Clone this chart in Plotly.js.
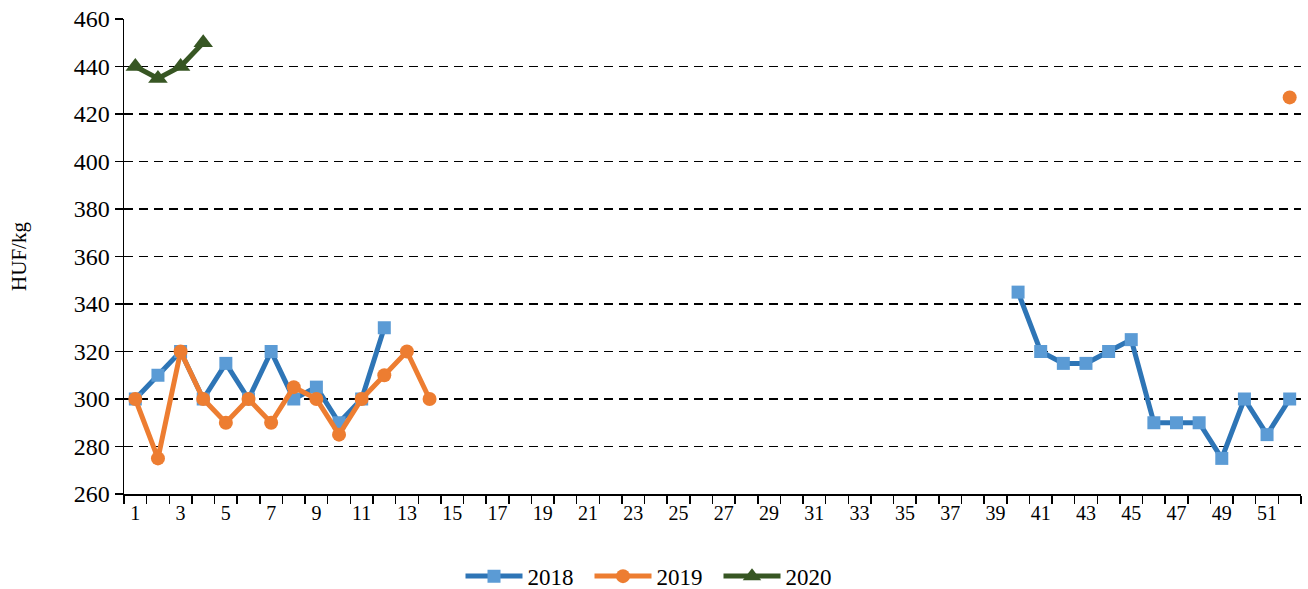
<!DOCTYPE html>
<html><head><meta charset="utf-8">
<script src="https://cdn.plot.ly/plotly-3.0.1.min.js"></script>
<style>html,body{margin:0;padding:0;background:#fff}#chart{width:1308px;height:589px}</style>
</head><body><div id="chart"></div>
<script>
const weeks = Array.from({length:52}, (_, i) => i + 1);
const tickLabels = [1,3,5,7,9,11,13,15,17,19,21,23,25,27,29,31,33,35,37,39,41,43,45,47,49,51];
const s2018 = [300,310,320,300,315,300,320,300,305,290,300,330,
  null,null,null,null,null,null,null,null,null,null,null,null,null,null,null,null,null,null,null,null,null,null,null,null,null,null,null,
  345,320,315,315,320,325,290,290,290,275,300,285,300];
const s2019 = [300,275,320,300,290,300,290,305,300,285,300,310,320,300,
  null,null,null,null,null,null,null,null,null,null,null,null,null,null,null,null,null,null,null,null,null,null,null,null,null,null,null,null,null,null,null,null,null,null,null,null,null,
  427];
const s2020 = [440,435,440,450];

const traces = [
  {x: weeks, y: s2018, name: '2018', mode: 'lines+markers', connectgaps: false,
   line: {color: '#2E75B6', width: 5}, marker: {symbol: 'square', size: 13, color: '#5B9BD5'}},
  {x: weeks, y: s2019, name: '2019', mode: 'lines+markers', connectgaps: false,
   line: {color: '#ED7D31', width: 5}, marker: {symbol: 'circle', size: 14, color: '#ED7D31'}},
  {x: weeks.slice(0, s2020.length), y: s2020, name: '2020', mode: 'lines+markers',
   line: {color: '#375623', width: 5}, marker: {symbol: 'triangle-up', size: 17, color: '#375623'}}
];

const layout = {
  width: 1308, height: 589,
  margin: {l: 124, r: 7, t: 19, b: 95, autoexpand: false},
  paper_bgcolor: '#fff', plot_bgcolor: '#fff',
  font: {family: '"Liberation Serif", "Times New Roman", serif', color: '#000', size: 20},
  showlegend: true,
  legend: {orientation: 'h', xref: 'container', x: 0.5, xanchor: 'center', y: -0.173, yanchor: 'middle',
    font: {size: 23}, itemwidth: 57, entrywidth: 57, entrywidthmode: 'pixels', traceorder: 'normal'},
  xaxis: {range: [0.5, 52.5], tickmode: 'array', tickvals: tickLabels, ticktext: tickLabels.map(String),
    ticks: '', showgrid: false, zeroline: false, showline: true, linecolor: '#000', linewidth: 1.5,
    tickfont: {size: 20}, fixedrange: true, automargin: false,
    minor: {tickmode: 'array', tickvals: Array.from({length:53}, (_, i) => i + 0.5), ticks: 'outside', ticklen: 8, tickcolor: '#000', tickwidth: 1.5, showgrid: false}},
  yaxis: {range: [260, 460], dtick: 20, tick0: 260, ticks: 'outside', ticklen: 8, tickcolor: '#000', tickwidth: 1.5,
    showline: true, linecolor: '#000', linewidth: 1.5, zeroline: false, automargin: false,
    showgrid: true, gridcolor: '#000', gridwidth: 1.8, griddash: '9px,6px',
    tickfont: {size: 24},
    title: {text: 'HUF/kg', font: {size: 21}, standoff: 41}}
};
Plotly.newPlot('chart', traces, layout, {displayModeBar: false, staticPlot: true});
</script>
</body></html>
